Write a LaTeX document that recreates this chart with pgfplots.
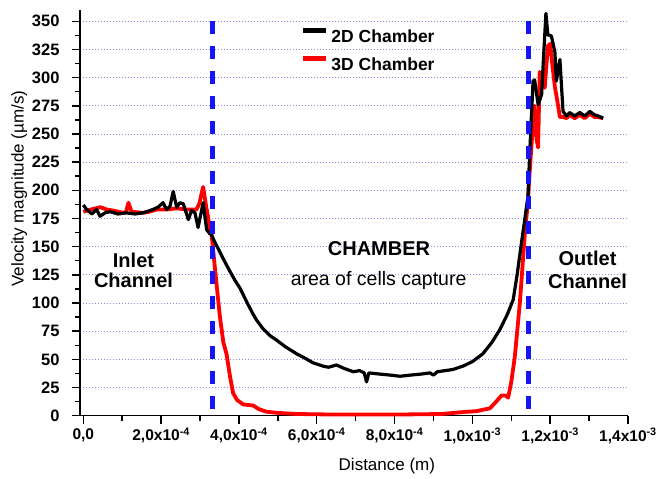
\documentclass[border=0pt]{standalone}
\usepackage{pgfplots}
\pgfplotsset{compat=1.18}
\usepackage{fontspec}
\setmainfont{Liberation Sans}
\definecolor{gridc}{RGB}{140,140,225}
\definecolor{vblue}{RGB}{20,20,245}
\definecolor{cred}{RGB}{255,0,0}
\begin{document}
\begin{tikzpicture}
\begin{axis}[
  scale only axis,
  width=548bp, height=405.7bp,
  at={(0,0)}, anchor=south west,
  xmin=-8.5e-6, xmax=1.4e-3,
  ymin=0, ymax=360,
  axis x line=bottom, axis y line=left,
  axis line style={-, line width=1.5bp},
  every tick/.style={black, line width=1.5bp},
  tick align=outside,
  major tick length=8bp, minor tick length=5bp,
  xtick={0,2e-4,4e-4,6e-4,8e-4,1e-3,1.2e-3,1.4e-3},
  xticklabels={{0,0},{2,0x10\textsuperscript{-4}},{4,0x10\textsuperscript{-4}},{6,0x10\textsuperscript{-4}},{8,0x10\textsuperscript{-4}},{1,0x10\textsuperscript{-3}},{1,2x10\textsuperscript{-3}},{1,4x10\textsuperscript{-3}}},
  scaled x ticks=false,
  minor x tick num=1,
  ytick={0,25,...,350},
  minor y tick num=1,
  /pgf/number format/assume math mode=true,
  xticklabel style={font=\bfseries\fontsize{15.5bp}{15.5bp}\selectfont, yshift=-1bp},
  yticklabel style={font=\bfseries\fontsize{16.5bp}{16.5bp}\selectfont, xshift=-9bp},
  ymajorgrids,
  grid style={gridc, line width=0.8bp, dash pattern=on 1bp off 2bp},
  xlabel={Distance (m)},
  ylabel={Velocity magnitude (µm/s)},
  label style={font=\fontsize{17bp}{17bp}\selectfont},
  xlabel style={at={(axis description cs:0.56,-0.123)}, anchor=center},
  ylabel style={at={(axis description cs:-0.111,0.56)}, anchor=center},
  clip=false,
  legend style={draw=none, fill=none, at={(axis description cs:0.4020,0.956)}, anchor=north west,
    inner sep=0pt, row sep=13.2bp,
    font=\bfseries\fontsize{17.5bp}{17.5bp}\selectfont,
    nodes={inner xsep=3bp, inner ysep=0pt, text height=12bp, text depth=0bp}},
  legend cell align=left,
  legend image code/.code={\draw[#1, line width=5bp] (0bp,6bp) -- (23bp,6bp);},
]
\addlegendimage{black}
\addlegendentry{2D Chamber}
\addlegendimage{cred}
\addlegendentry{3D Chamber}

% 3D chamber (red)
\addplot[cred, line width=3.8bp, line join=round, forget plot] coordinates {
(0,181) (2e-5,183) (4.4e-5,185) (6e-5,183) (7.7e-5,182) (1.03e-4,180) (1.10e-4,181) (1.16e-4,189) (1.24e-4,181) (1.54e-4,180) (1.7e-4,181) (1.89e-4,183) (2.14e-4,183) (2.4e-4,184) (2.66e-4,183) (2.91e-4,183) (2.98e-4,188) (3.08e-4,203) (3.16e-4,185) (3.21e-4,176) (3.25e-4,165) (3.3e-4,160) (3.38e-4,132) (3.51e-4,88) (3.6e-4,65) (3.68e-4,55) (3.77e-4,35) (3.85e-4,20) (3.95e-4,14) (4.11e-4,10) (4.37e-4,9) (4.5e-4,6) (4.71e-4,3.5) (5e-4,2.5) (5.5e-4,1.5) (6.5e-4,1) (8e-4,1) (9.2e-4,1.5) (9.85e-4,3.5) (1.01e-3,4) (1.03e-3,5.5) (1.045e-3,6.5) (1.06e-3,12) (1.075e-3,18) (1.085e-3,18) (1.092e-3,16) (1.1e-3,30) (1.109e-3,52) (1.122e-3,100) (1.135e-3,162) (1.143e-3,191) (1.147e-3,215) (1.152e-3,240) (1.156e-3,260) (1.16e-3,275) (1.165e-3,245) (1.169e-3,238) (1.173e-3,305) (1.179e-3,300) (1.186e-3,291) (1.194e-3,328) (1.2e-3,330) (1.206e-3,310) (1.212e-3,292) (1.218e-3,280) (1.225e-3,265) (1.235e-3,265) (1.242e-3,264) (1.25e-3,267) (1.263e-3,264) (1.276e-3,267) (1.289e-3,264) (1.302e-3,268) (1.314e-3,265) (1.323e-3,265) (1.336e-3,264)
};
% 2D chamber (black)
\addplot[black, line width=3.2bp, line join=round, forget plot] coordinates {
(0,187) (8.7e-6,183) (2.2e-5,179) (3.4e-5,183) (4.3e-5,177) (5.6e-5,180) (6.9e-5,181) (8.9e-5,179) (1.11e-4,180) (1.33e-4,179) (1.53e-4,180) (1.71e-4,182) (1.79e-4,183) (1.92e-4,185) (2.05e-4,189) (2.14e-4,183) (2.23e-4,186) (2.31e-4,199) (2.40e-4,185) (2.48e-4,189) (2.57e-4,188) (2.70e-4,174) (2.78e-4,182) (2.87e-4,180) (2.95e-4,167) (3.08e-4,189) (3.17e-4,165) (3.24e-4,162) (3.30e-4,160) (3.38e-4,154) (3.5e-4,146) (3.6e-4,139) (3.77e-4,128) (3.9e-4,120) (4.03e-4,113) (4.2e-4,101) (4.35e-4,91) (4.45e-4,85) (4.6e-4,78) (4.8e-4,71) (4.97e-4,67) (5.2e-4,61) (5.48e-4,55) (5.7e-4,51) (5.9e-4,47) (6.16e-4,44) (6.3e-4,43) (6.51e-4,45) (6.7e-4,42) (6.94e-4,39) (7.1e-4,40) (7.22e-4,38) (7.28e-4,30) (7.34e-4,38) (7.6e-4,37) (7.9e-4,36) (8.14e-4,35) (8.4e-4,36) (8.7e-4,37) (8.91e-4,38) (9.0e-4,36) (9.1e-4,39) (9.3e-4,40) (9.5e-4,41) (9.76e-4,44) (1.0e-3,48) (1.027e-3,55) (1.05e-3,65) (1.07e-3,76) (1.09e-3,90) (1.105e-3,103) (1.115e-3,125) (1.126e-3,153) (1.135e-3,175) (1.143e-3,195) (1.147e-3,230) (1.151e-3,260) (1.156e-3,297) (1.160e-3,298) (1.164e-3,288) (1.169e-3,276) (1.178e-3,285) (1.182e-3,312) (1.189e-3,357) (1.194e-3,338) (1.203e-3,337) (1.212e-3,323) (1.216e-3,297) (1.225e-3,316) (1.233e-3,270) (1.242e-3,266) (1.25e-3,269) (1.263e-3,266) (1.276e-3,269) (1.289e-3,266) (1.302e-3,270) (1.314e-3,267) (1.323e-3,266) (1.336e-3,264)
};
% region boundaries
\addplot[vblue, line width=5bp, dash pattern=on 13bp off 12bp, forget plot] coordinates {(3.33e-4,350) (3.33e-4,0)};
\addplot[vblue, line width=5bp, dash pattern=on 13bp off 12bp, forget plot] coordinates {(1.143e-3,350) (1.143e-3,0)};

\node[anchor=base, font=\bfseries\fontsize{20bp}{20bp}\selectfont] at (axis cs:1.29e-4,131.5) {Inlet};
\node[anchor=base, font=\bfseries\fontsize{20bp}{20bp}\selectfont] at (axis cs:1.29e-4,113.7) {Channel};
\node[anchor=base, font=\bfseries\fontsize{20bp}{20bp}\selectfont] at (axis cs:7.6e-4,142) {CHAMBER};
\node[anchor=base, font=\fontsize{19.5bp}{19.5bp}\selectfont] at (axis cs:7.59e-4,115.6) {area of cells capture};
\node[anchor=base, font=\bfseries\fontsize{20bp}{20bp}\selectfont] at (axis cs:1.296e-3,133) {Outlet};
\node[anchor=base, font=\bfseries\fontsize{20bp}{20bp}\selectfont] at (axis cs:1.296e-3,112.9) {Channel};
\end{axis}
\pgfresetboundingbox
\path[use as bounding box] (-80bp,-63.3bp) rectangle (577bp,415.7bp);
\end{tikzpicture}
\end{document}
